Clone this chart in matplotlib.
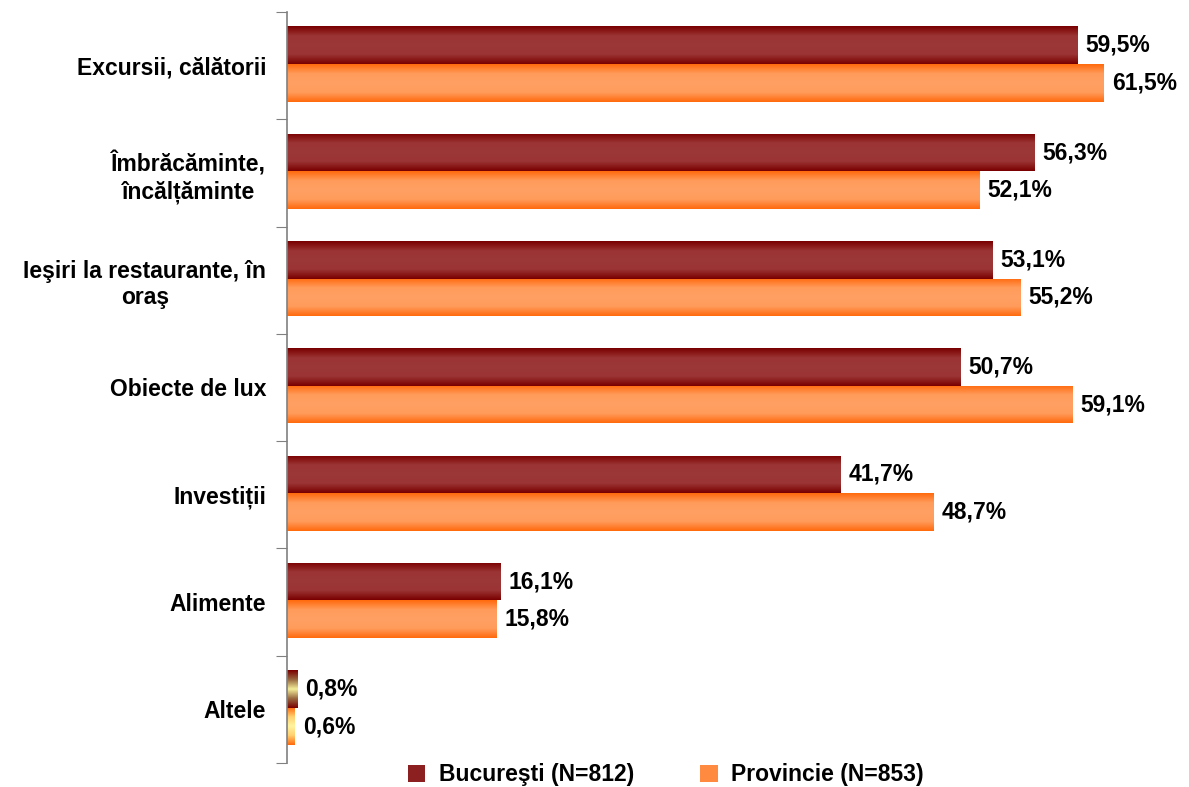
import numpy as np
import matplotlib.pyplot as plt
from matplotlib.colors import LinearSegmentedColormap
from matplotlib.patches import Patch

plt.rcParams['font.family'] = ['Liberation Sans', 'DejaVu Sans']
plt.rcParams['font.weight'] = 'bold'

categories = ["Excursii, călătorii", "Îmbrăcăminte,\nîncălțăminte",
              "Ieşiri la restaurante, în\noraş", "Obiecte de lux",
              "Investiții", "Alimente", "Altele"]
bucuresti = [59.5, 56.3, 53.1, 50.7, 41.7, 16.1, 0.8]
provincie = [61.5, 52.1, 55.2, 59.1, 48.7, 15.8, 0.6]
series_names = ["Bucureşti (N=812)", "Provincie (N=853)"]

# edge -> centre -> edge gradients
cm_buc = LinearSegmentedColormap.from_list("buc", ["#7a0000", "#9b3434", "#9c3838", "#9b3434", "#7a0000"])
cm_pro = LinearSegmentedColormap.from_list("pro", ["#ff6a0e", "#ff9c5c", "#ffa062", "#ff9c5c", "#ff6a0e"])
# very short bars get a yellowish gradient in the original
cm_buc_s = LinearSegmentedColormap.from_list("buc_s", ["#7a0000", "#9a6a40", "#f4ee9a", "#9a6a40", "#7a0000"])
cm_pro_s = LinearSegmentedColormap.from_list("pro_s", ["#ff6a0e", "#ffd070", "#fff4a0", "#ffd070", "#ff6a0e"])
grad = np.linspace(0, 1, 64).reshape(-1, 1)

fig = plt.figure(figsize=(11.89, 7.87), dpi=100)
ax = fig.add_axes([287 / 1189, 1 - 763 / 787, 890 / 1189, 751 / 787])

y = np.arange(len(categories))
h = 0.35
bars1 = ax.barh(y - h / 2 - 0.015, bucuresti, height=h, color="#9b3434", linewidth=0)
bars2 = ax.barh(y + h / 2 - 0.015, provincie, height=h, color="#ff9c5c", linewidth=0)

for bars, cm, cms in ((bars1, cm_buc, cm_buc_s), (bars2, cm_pro, cm_pro_s)):
    for b in bars:
        x0, y0 = b.get_x(), b.get_y()
        im = ax.imshow(grad, extent=[x0, x0 + b.get_width(), y0, y0 + b.get_height()],
                       aspect='auto', cmap=cms if b.get_width() < 2 else cm,
                       interpolation='bilinear', zorder=2)
        im.set_clip_path(b)

for bars, vals in ((bars1, bucuresti), (bars2, provincie)):
    for b, v in zip(bars, vals):
        ax.text(v + 0.6, b.get_y() + b.get_height() / 2, ("%.1f%%" % v).replace(".", ","),
                va='center', ha='left', fontsize=16.5, fontweight='bold', color='black')

ax.set_xlim(0, 67)
ax.set_ylim(len(categories) - 0.5, -0.5)

ax.set_yticks(np.arange(-0.5, len(categories)), [""] * (len(categories) + 1))
ax.set_yticks(y, categories, minor=True)
ax.tick_params(axis='y', which='major', direction='out', length=8, color='#808080')
ax.tick_params(axis='y', which='minor', length=0, pad=15, labelsize=16.5)
for lbl in ax.get_yticklabels(minor=True):
    lbl.set_multialignment('center')
    lbl.set_fontweight('bold')
ax.set_xticks([])

for s in ("top", "right", "bottom"):
    ax.spines[s].set_visible(False)
ax.spines["left"].set_color("#808080")
ax.spines["left"].set_linewidth(1.2)

handles = [Patch(facecolor="#8c2020", edgecolor="none"), Patch(facecolor="#ff8a40", edgecolor="none")]
fig.legend(handles, series_names, loc='center', bbox_to_anchor=(0.56, 1 - 775 / 787), ncol=2,
           frameon=False, handlelength=0.75, handleheight=0.75,
           handletextpad=0.6, columnspacing=2.9, prop={'weight': 'bold', 'size': 16.5})

fig.savefig("out.png", dpi=100)
